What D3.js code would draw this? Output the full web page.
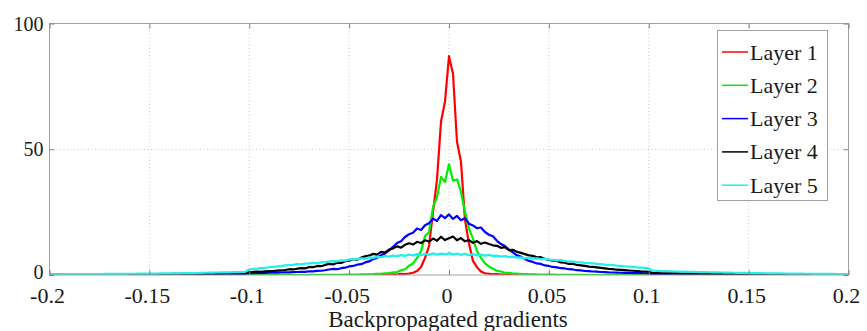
<!DOCTYPE html>
<html><head><meta charset="utf-8">
<script src="https://cdn.jsdelivr.net/npm/d3@7"></script>
</head><body style="margin:0;background:#fff">
<svg id="c" width="867" height="331" style="display:block"></svg>
<script>
// histogram bin grid
const binStart = -0.2, binStep = 0.002;

const layer1 = [
0,0,0,0,0,0,0,0,0,0,
0,0,0,0,0,0,0,0,0,0,
0,0,0,0,0,0,0,0,0,0,
0,0,0,0,0,0,0,0,0,0,
0,0,0,0,0,0,0,0,0,0,
0,0,0,0,0,0,0,0,0,0,
0,0,0,0,0,0,0,0,0,0,
0,0,0,0,0,0,0,0,0,0,
0.05,0.1,0.05,0.1,0.15,0.1,0.3,0.2,0.45,0.4,
0.6,0.9,1.6,3.2,6.8,11.5,25,38,61,69,
87,80,53,45,22,12.5,5.6,3.1,1.4,0.7,
0.5,0.3,0.35,0.2,0.2,0.1,0.15,0.05,0.1,0.05,
0.05,0,0,0,0,0,0,0,0,0,
0,0,0,0,0,0,0,0,0,0,
0,0,0,0,0,0,0,0,0,0,
0,0,0,0,0,0,0,0,0,0,
0,0,0,0,0,0,0,0,0,0,
0,0,0,0,0,0,0,0,0,0,
0,0,0,0,0,0,0,0,0,0,
0,0,0,0,0,0,0,0,0,0,
0];

const layer2 = [
0,0,0,0,0,0,0,0,0,0,
0,0,0,0,0,0,0,0,0,0,
0,0,0,0,0,0,0,0,0,0,
0,0,0,0,0,0,0,0,0,0,
0,0,0,0,0,0,0,0,0,0,
0,0,0,0,0,0,0,0,0,0,
0,0,0,0,0,0.02,0.03,0.02,0.05,0.04,
0.06,0.08,0.07,0.1,0.12,0.15,0.14,0.2,0.22,0.25,
0.3,0.35,0.45,0.5,0.7,0.75,1.1,1.2,1.9,2.3,
3.7,4.6,6.8,9.5,15.5,17,27,31,39,37,
44,37.5,38,33,25,18.5,14.5,9.5,6.8,4.6,
3.4,2.5,1.7,1.4,0.9,0.85,0.6,0.55,0.4,0.35,
0.3,0.28,0.22,0.2,0.16,0.15,0.12,0.1,0.08,0.07,
0.05,0.06,0.04,0.03,0.03,0.02,0,0,0,0,
0,0,0,0,0,0,0,0,0,0,
0,0,0,0,0,0,0,0,0,0,
0,0,0,0,0,0,0,0,0,0,
0,0,0,0,0,0,0,0,0,0,
0,0,0,0,0,0,0,0,0,0,
0,0,0,0,0,0,0,0,0,0,
0];

const layer3 = [
0.05,0.04,0.06,0.05,0.07,0.05,0.06,0.08,0.06,0.07,
0.08,0.07,0.09,0.08,0.1,0.09,0.1,0.12,0.1,0.12,
0.13,0.12,0.15,0.14,0.16,0.15,0.17,0.18,0.17,0.2,
0.19,0.22,0.21,0.24,0.23,0.26,0.25,0.28,0.27,0.3,
0.3,0.33,0.32,0.35,0.36,0.38,0.37,0.4,0.42,0.41,
0.7,0.75,0.8,0.78,0.85,0.9,0.95,0.92,1.0,1.1,
1.05,1.15,1.2,1.3,1.25,1.5,1.45,1.65,1.7,1.9,
2.2,2.4,2.3,2.7,2.9,3.4,3.6,4.1,4.3,5.0,
5.4,6.3,6.8,7.9,8.6,9.8,11.2,12.7,13.4,15.1,
16.2,16.8,18.5,17.9,19.8,20.6,22.4,21.5,23.8,22.6,
24.1,22.3,23.5,21.8,22.6,20.4,19.7,18.6,18.9,17.1,
16.0,15.4,13.6,12.3,11.5,10.1,9.0,7.8,7.3,6.4,
5.6,5.2,4.6,4.4,3.8,3.6,3.2,3.0,2.7,2.6,
2.3,2.2,1.9,1.85,1.6,1.55,1.4,1.35,1.2,1.15,
1.05,1.0,0.95,0.9,0.85,0.82,0.78,0.75,0.72,0.7,
0.68,0.45,0.42,0.43,0.4,0.38,0.37,0.35,0.34,0.32,
0.31,0.3,0.28,0.27,0.26,0.24,0.23,0.22,0.2,0.19,
0.18,0.17,0.16,0.15,0.14,0.13,0.12,0.12,0.11,0.1,
0.1,0.09,0.09,0.08,0.08,0.07,0.07,0.06,0.06,0.06,
0.05,0.05,0.05,0.05,0.05,0.05,0.05,0.05,0.05,0.05,
0.05];

const layer4 = [
0.15,0.16,0.15,0.17,0.16,0.18,0.17,0.19,0.2,0.19,
0.21,0.22,0.21,0.23,0.24,0.25,0.24,0.26,0.27,0.28,
0.27,0.3,0.31,0.3,0.33,0.35,0.34,0.37,0.38,0.4,
0.39,0.42,0.43,0.45,0.44,0.47,0.48,0.5,0.52,0.51,
0.55,0.56,0.58,0.6,0.59,0.63,0.65,0.64,0.68,0.7,
1.2,1.25,1.35,1.3,1.45,1.55,1.6,1.75,1.8,2.0,
2.3,2.2,2.5,2.7,2.6,3.2,3.1,3.6,3.5,4.0,
4.4,4.2,4.9,4.8,5.5,5.7,6.3,6.0,6.9,7.4,
7.7,8.4,8.1,9.2,9.0,10.1,10.6,11.4,10.9,12.0,
12.6,12.1,13.2,12.7,13.8,13.3,14.5,13.6,15.2,13.9,
14.6,15.3,13.8,14.7,13.4,13.9,12.8,13.5,12.4,12.9,
12.3,11.8,11.6,10.8,11.1,9.9,10.0,9.2,8.8,8.3,
7.8,7.6,7.0,7.1,6.4,6.0,5.7,5.6,5.0,4.9,
4.4,4.5,4.0,3.8,3.6,3.3,3.2,3.0,2.8,2.6,
2.4,2.3,2.1,2.0,1.9,1.8,1.7,1.6,1.45,1.4,
1.3,0.75,0.72,0.7,0.68,0.66,0.63,0.62,0.6,0.57,
0.56,0.53,0.52,0.5,0.48,0.47,0.45,0.44,0.42,0.41,
0.39,0.38,0.36,0.35,0.34,0.33,0.31,0.3,0.29,0.28,
0.27,0.26,0.25,0.24,0.23,0.22,0.22,0.21,0.2,0.2,
0.19,0.18,0.18,0.17,0.17,0.16,0.16,0.15,0.15,0.15,
0.14];

const layer5 = [
0.3,0.32,0.3,0.33,0.32,0.34,0.33,0.35,0.36,0.35,
0.37,0.38,0.4,0.39,0.41,0.43,0.42,0.45,0.47,0.46,
0.49,0.5,0.52,0.51,0.54,0.56,0.58,0.57,0.61,0.63,
0.65,0.64,0.68,0.7,0.72,0.74,0.76,0.8,0.86,0.9,
0.94,0.97,1.0,1.02,1.05,1.08,1.12,1.15,1.2,1.28,
2.2,2.4,2.5,2.7,2.8,3.1,3.2,3.4,3.5,3.8,
3.9,4.0,4.3,4.2,4.5,4.6,4.8,4.7,5.0,5.1,
5.3,5.5,5.4,5.8,5.7,6.1,6.3,6.2,6.6,6.5,
7.0,6.8,7.2,7.1,7.5,7.3,7.7,7.5,7.9,7.6,
8.1,7.8,8.3,7.9,8.4,8.0,8.6,8.1,8.5,8.2,
8.7,8.1,8.5,8.0,8.4,7.9,8.3,7.8,8.1,7.7,
8.0,7.6,7.7,7.3,7.5,7.1,7.3,6.9,7.0,6.7,
6.9,6.5,6.6,6.3,6.4,6.1,6.0,5.8,5.9,5.5,
5.4,5.3,5.1,5.0,4.8,4.7,4.6,4.4,4.3,4.1,
4.0,3.9,3.7,3.6,3.4,3.3,3.2,3.0,2.9,2.8,
2.6,1.7,1.65,1.6,1.55,1.5,1.45,1.4,1.38,1.33,
1.3,1.25,1.2,1.18,1.14,1.1,1.06,1.03,1.0,0.97,
0.94,0.9,0.88,0.85,0.82,0.8,0.77,0.75,0.72,0.7,
0.68,0.66,0.64,0.62,0.6,0.58,0.56,0.54,0.52,0.5,
0.49,0.47,0.46,0.44,0.43,0.42,0.41,0.4,0.39,0.38,
0.37];

const seriesNames = ["Layer 1","Layer 2","Layer 3","Layer 4","Layer 5"];
const xTicks = [-0.2,-0.15,-0.1,-0.05,0,0.05,0.1,0.15,0.2];
const xTickLabels = ["-0.2","-0.15","-0.1","-0.05","0","0.05","0.1","0.15","0.2"];
const yTicks = [0,50,100];
const yTickLabels = ["0","50","100"];
const xLabel = "Backpropagated gradients";

const seriesColors = ["#ff0000","#00ee00","#0000ff","#000000","#22eeee"];
const series = [layer1,layer2,layer3,layer4,layer5];

const FONT = '"Liberation Serif", "Times New Roman", Tinos, serif';
const svg = d3.select("#c");
const L = 49.5, R = 848.5, T = 23.5, B = 275;

const x = d3.scaleLinear().domain([-0.2,0.2]).range([L,R]);
const y = d3.scaleLinear().domain([0,100]).range([B,T]);

svg.append("rect").attr("width",867).attr("height",331).attr("fill","#fff");

// grid
const grid = svg.append("g").attr("stroke","#b8b8b8").attr("stroke-width",0.8).attr("stroke-dasharray","1,2.5");
xTicks.slice(1,-1).forEach(t=>grid.append("line").attr("x1",x(t)).attr("x2",x(t)).attr("y1",T).attr("y2",B));
yTicks.slice(1,-1).forEach(t=>grid.append("line").attr("x1",L).attr("x2",R).attr("y1",y(t)).attr("y2",y(t)));

// curves
svg.append("clipPath").attr("id","clip").append("rect").attr("x",L).attr("y",T-2).attr("width",R-L).attr("height",B-T+2);
const xs = d3.range(layer1.length).map(i=>binStart+i*binStep);
const line = d3.line().x((d,i)=>x(xs[i])).y(d=>y(d));
const cg = svg.append("g").attr("clip-path","url(#clip)");
series.forEach((s,k)=>{
  cg.append("path").datum(s).attr("d",line).attr("fill","none")
    .attr("stroke",seriesColors[k]).attr("stroke-width",2.2).attr("stroke-linejoin","round");
});

// frame
svg.append("rect").attr("x",L).attr("y",T).attr("width",R-L).attr("height",B-T)
  .attr("fill","none").attr("stroke","#a0a0a0").attr("stroke-width",1);

// axes: tick marks drawn inward on all four sides
const xa = svg.append("g").attr("transform",`translate(0,${B})`)
  .call(d3.axisBottom(x).tickValues(xTicks).tickFormat("").tickSize(-5));
const xt = svg.append("g").attr("transform",`translate(0,${T})`)
  .call(d3.axisTop(x).tickValues(xTicks).tickFormat("").tickSize(-5));
const ya = svg.append("g").attr("transform",`translate(${L},0)`)
  .call(d3.axisLeft(y).tickValues(yTicks).tickFormat("").tickSize(-5));
const yr = svg.append("g").attr("transform",`translate(${R},0)`)
  .call(d3.axisRight(y).tickValues(yTicks).tickFormat("").tickSize(-5));
[xa,xt,ya,yr].forEach(g=>{
  g.select(".domain").remove();
  g.selectAll(".tick line").attr("stroke","#808080");
  g.selectAll(".tick text").remove();
});

function txt(parent, s, size){
  const t = parent.append("text").text(s).attr("fill","#1a1a1a");
  t.style("font-family", FONT, "important").style("font-size", size+"px", "important");
  return t;
}
xTicks.forEach((v,i)=>{
  txt(svg, xTickLabels[i], 22).attr("x", x(v)-2).attr("y", 302.5).attr("text-anchor","middle");
});
yTicks.forEach((v,i)=>{
  txt(svg, yTickLabels[i], 20).attr("x", L-6).attr("y", y(v) + (v===0 ? 4 : 7)).attr("text-anchor","end");
});
txt(svg, xLabel, 23).attr("x",448).attr("y",327).attr("text-anchor","middle");

// legend
const lg = svg.append("g");
lg.append("rect").attr("x",717.5).attr("y",30.5).attr("width",110).attr("height",170)
  .attr("fill","#fff").attr("stroke","#a0a0a0").attr("stroke-width",1);
seriesNames.forEach((n,k)=>{
  const cy = 52 + k*33.3;
  lg.append("line").attr("x1",722).attr("x2",748).attr("y1",cy).attr("y2",cy)
    .attr("stroke",seriesColors[k]).attr("stroke-width",1.5);
  txt(lg, n, 22).attr("x",750).attr("y",cy+7.5);
});
</script>
</body></html>
